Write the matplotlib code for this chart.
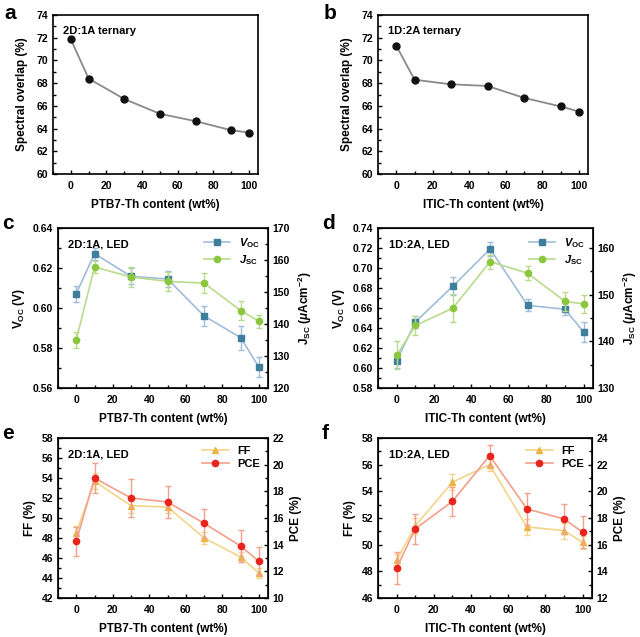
import numpy as np
import matplotlib
matplotlib.use('Agg')
from matplotlib import pyplot as plt
from matplotlib import ticker as mtick
from matplotlib.lines import Line2D

plt.rcParams['font.family'] = ['Liberation Sans', 'DejaVu Sans']
plt.rcParams['font.weight'] = 'bold'
plt.rcParams['mathtext.fontset'] = 'custom'
plt.rcParams['mathtext.rm'] = 'Liberation Sans:bold'
plt.rcParams['mathtext.it'] = 'Liberation Sans:italic:bold'
plt.rcParams['mathtext.bf'] = 'Liberation Sans:bold'

# content (wt%)
content = [0, 10, 30, 50, 70, 90, 100]

# a / b : spectral overlap (%)
overlap_2d1a = [71.85, 68.4, 66.6, 65.3, 64.65, 63.85, 63.65]
overlap_1d2a = [71.3, 68.3, 67.9, 67.75, 66.7, 65.95, 65.5]

# c : 2D:1A Voc / Jsc
voc_2d1a = [0.6072, 0.6272, 0.6158, 0.6145, 0.596, 0.5852, 0.5705]
voc_2d1a_err = [0.004, 0.003, 0.004, 0.004, 0.005, 0.006, 0.005]
jsc_2d1a = [135.1, 157.8, 154.7, 153.3, 152.8, 144.2, 140.9]
jsc_2d1a_err = [2.5, 2.0, 3.0, 3.0, 3.0, 3.0, 2.0]

# d : 1D:2A Voc / Jsc
voc_1d2a = [0.6073, 0.646, 0.6817, 0.719, 0.6627, 0.6587, 0.636]
voc_1d2a_err = [0.007, 0.006, 0.009, 0.007, 0.006, 0.006, 0.010]
jsc_1d2a = [137.0, 143.4, 147.1, 157.1, 154.6, 148.6, 148.0]
jsc_1d2a_err = [3.0, 2.0, 3.0, 1.5, 1.5, 2.0, 2.0]

# e : 2D:1A FF / PCE
ff_2d1a = [48.5, 53.67, 51.23, 51.1, 48.0, 46.1, 44.5]
ff_2d1a_err = [0.7, 0.8, 0.7, 0.6, 0.6, 0.5, 0.5]
pce_2d1a = [14.25, 19.0, 17.5, 17.2, 15.6, 13.9, 12.75]
pce_2d1a_err = [1.1, 1.1, 1.4, 1.2, 1.1, 1.2, 1.05]

# f : 1D:2A FF / PCE
ff_1d2a = [48.83, 51.4, 54.68, 56.0, 51.33, 51.05, 50.18]
ff_1d2a_err = [0.5, 0.6, 0.6, 0.5, 0.6, 0.6, 0.5]
pce_1d2a = [14.25, 17.18, 19.25, 22.68, 18.68, 17.93, 16.93]
pce_1d2a_err = [1.2, 1.15, 1.1, 0.8, 1.2, 1.15, 1.2]

# cores
c_voc, c_voc_l = '#3f7f9c', '#9fbcdc'
c_jsc, c_jsc_l = '#8cc63f', '#b9dc8c'
c_ff, c_ff_l = '#e9b545', '#f3d58a'
c_pce, c_pce_l = '#e8241c', '#f2a08a'

W, H = 640, 637
fig = plt.figure(figsize=(W / 100, H / 100), dpi=100)


def add_axes(x0, x1, y0, y1):
    return fig.add_axes([x0 / W, 1 - y1 / H, (x1 - x0) / W, (y1 - y0) / H])


def style_axes(ax, xlabel):
    ax.set_xlim(-10, 105)
    ax.xaxis.set_major_locator(mtick.MultipleLocator(20))
    ax.xaxis.set_minor_locator(mtick.MultipleLocator(10))
    ax.tick_params(which='both', direction='in', labelsize=7.5, width=1)
    ax.tick_params(which='major', length=3)
    ax.tick_params(which='minor', length=2)
    ax.tick_params(axis='x', pad=5)
    for s in ax.spines.values():
        s.set_linewidth(1.2)
    ax.set_xlabel(xlabel, fontsize=8.5, fontweight='bold', labelpad=6)


# paineis a e b
for (x0, x1), y, label, xl, letter, lx in [
        ((53, 258), overlap_2d1a, '2D:1A ternary', 'PTB7-Th content (wt%)', 'a', 4),
        ((378, 588), overlap_1d2a, '1D:2A ternary', 'ITIC-Th content (wt%)', 'b', 324)]:
    ax = add_axes(x0, x1, 15, 174)
    ax.plot(content, y, color='#8a8a8a', lw=1.3, marker='o', ms=5,
            mfc='#111111', mec='#111111')
    ax.set_ylim(60, 74)
    ax.yaxis.set_major_locator(mtick.MultipleLocator(2))
    ax.yaxis.set_minor_locator(mtick.MultipleLocator(1))
    style_axes(ax, xl)
    ax.set_ylabel('Spectral overlap (%)', fontsize=8.5, fontweight='bold', labelpad=6)
    ax.text(0.05, 0.93, label, transform=ax.transAxes, fontsize=8, fontweight='bold', va='top')
    fig.text(lx / W, 1 - 4 / H, letter, fontsize=15, fontweight='bold', va='top')


def dual_panel(x0, x1, y0, y1, left, right, xl, text, letter, lx, ly):
    ax = add_axes(x0, x1, y0, y1)
    ax2 = ax.twinx()
    (yl, el, cl, cll, ml, lab_l, lim_l, maj_l, min_l, ylab_l) = left
    (yr, er, cr, crl, mr, lab_r, lim_r, maj_r, min_r, ylab_r) = right
    ax.errorbar(content, yl, yerr=el, color=cll, lw=1.2, marker=ml, ms=4.5,
                mfc=cl, mec=cl, capsize=2, elinewidth=1, ecolor=cll)
    ax2.errorbar(content, yr, yerr=er, color=crl, lw=1.2, marker=mr, ms=4.5,
                 mfc=cr, mec=cr, capsize=2, elinewidth=1, ecolor=crl)
    ax.set_ylim(*lim_l)
    ax2.set_ylim(*lim_r)
    ax.yaxis.set_major_locator(mtick.MultipleLocator(maj_l))
    ax.yaxis.set_minor_locator(mtick.MultipleLocator(min_l))
    ax2.yaxis.set_major_locator(mtick.MultipleLocator(maj_r))
    ax2.yaxis.set_minor_locator(mtick.MultipleLocator(min_r))
    style_axes(ax, xl)
    ax2.tick_params(which='both', direction='in', labelsize=7.5, width=1)
    ax2.tick_params(which='major', length=3)
    ax2.tick_params(which='minor', length=2)
    ax.set_ylabel(ylab_l, fontsize=8.5, fontweight='bold', labelpad=4)
    ax2.set_ylabel(ylab_r, fontsize=8.5, fontweight='bold', labelpad=4)
    ax.text(0.05, 0.93, text, transform=ax.transAxes, fontsize=8, fontweight='bold', va='top')
    h1 = Line2D([], [], color=cll, lw=1.2, marker=ml, ms=4.5, mfc=cl, mec=cl)
    h2 = Line2D([], [], color=crl, lw=1.2, marker=mr, ms=4.5, mfc=cr, mec=cr)
    ax.legend([h1, h2], [lab_l, lab_r], loc='upper right', frameon=False, fontsize=8,
              handlelength=2.4, borderaxespad=0.3, labelspacing=0.3)
    fig.text(lx / W, 1 - ly / H, letter, fontsize=15, fontweight='bold', va='top')


voc_lab = r'$V_{\mathrm{OC}}$'
jsc_lab = r'$J_{\mathrm{SC}}$'
voc_y = r'V$_{\mathrm{OC}}$ (V)'
jsc_y = r'J$_{\mathrm{SC}}$ ($\mu$Acm$^{-2}$)'

dual_panel(58, 268, 228, 388,
           (voc_2d1a, voc_2d1a_err, c_voc, c_voc_l, 's', voc_lab, (0.56, 0.64), 0.02, 0.01, voc_y),
           (jsc_2d1a, jsc_2d1a_err, c_jsc, c_jsc_l, 'o', jsc_lab, (120, 170), 10, 5, jsc_y),
           'PTB7-Th content (wt%)', '2D:1A, LED', 'c', 2, 214)
dual_panel(378, 593, 228, 388,
           (voc_1d2a, voc_1d2a_err, c_voc, c_voc_l, 's', voc_lab, (0.58, 0.74), 0.02, 0.01, voc_y),
           (jsc_1d2a, jsc_1d2a_err, c_jsc, c_jsc_l, 'o', jsc_lab, (130, 164.3), 10, 5, jsc_y),
           'ITIC-Th content (wt%)', '1D:2A, LED', 'd', 322, 214)
dual_panel(58, 268, 438, 598,
           (ff_2d1a, ff_2d1a_err, c_ff, c_ff_l, '^', 'FF', (42, 58), 2, 1, 'FF (%)'),
           (pce_2d1a, pce_2d1a_err, c_pce, c_pce_l, 'o', 'PCE', (10, 22), 2, 1, 'PCE (%)'),
           'PTB7-Th content (wt%)', '2D:1A, LED', 'e', 2, 424)
dual_panel(378, 592, 438, 598,
           (ff_1d2a, ff_1d2a_err, c_ff, c_ff_l, '^', 'FF', (46, 58), 2, 1, 'FF (%)'),
           (pce_1d2a, pce_1d2a_err, c_pce, c_pce_l, 'o', 'PCE', (12, 24), 2, 1, 'PCE (%)'),
           'ITIC-Th content (wt%)', '1D:2A, LED', 'f', 322, 424)

fig.savefig('out.png', dpi=100)
